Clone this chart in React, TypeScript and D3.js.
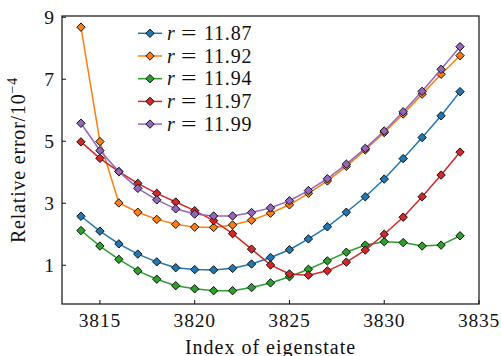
import React from "react";
import * as d3 from "d3";

const indices = d3.range(3814, 3835);

const r1187 = [2.58, 2.10, 1.69, 1.36, 1.11, 0.92, 0.86, 0.85, 0.90, 1.04, 1.25, 1.50, 1.85, 2.24, 2.71, 3.21, 3.78, 4.44, 5.12, 5.82, 6.60];
const r1192 = [8.68, 4.99, 3.01, 2.71, 2.48, 2.32, 2.23, 2.22, 2.30, 2.45, 2.68, 2.95, 3.32, 3.72, 4.19, 4.72, 5.28, 5.88, 6.52, 7.16, 7.76];
const r1194 = [2.12, 1.62, 1.19, 0.82, 0.55, 0.34, 0.24, 0.18, 0.18, 0.28, 0.43, 0.63, 0.87, 1.14, 1.42, 1.65, 1.76, 1.73, 1.62, 1.65, 1.95];
const r1197 = [4.98, 4.45, 4.02, 3.64, 3.32, 3.04, 2.76, 2.44, 2.02, 1.52, 1.01, 0.72, 0.68, 0.82, 1.10, 1.49, 2.00, 2.55, 3.21, 3.91, 4.65];
const r1199 = [5.58, 4.70, 4.02, 3.48, 3.11, 2.82, 2.65, 2.59, 2.59, 2.70, 2.85, 3.08, 3.41, 3.79, 4.26, 4.77, 5.33, 5.95, 6.61, 7.32, 8.05];

const seriesLabels = ["11.87", "11.92", "11.94", "11.97", "11.99"];
const seriesValues = [r1187, r1192, r1194, r1197, r1199];
const seriesColors = ["#1f77b4", "#ff7f0e", "#2ca02c", "#d62728", "#9467bd"];

const xTicks = [3815, 3820, 3825, 3830, 3835];
const yTicks = [1, 3, 5, 7, 9];

const W = 501;
const H = 356;
const plot = { left: 62, right: 479, top: 16, bottom: 304 };
const FONT = "Liberation Serif, DejaVu Serif, serif";

const x = d3.scaleLinear().domain([3813, 3835]).range([plot.left, plot.right]);
const y = d3.scaleLinear().domain([-0.25, 9.04]).range([plot.bottom, plot.top]);

const diamond = (cx: number, cy: number, r = 4.2) =>
  `M${cx},${cy - r}L${cx + r},${cy}L${cx},${cy + r}L${cx - r},${cy}Z`;

const textStyle: React.CSSProperties = { fontFamily: FONT };

export default function App() {
  const line = d3
    .line<number>()
    .x((_, i) => x(indices[i]))
    .y((v) => y(v));

  return (
    <svg
      width={W}
      height={H}
      style={{ position: "absolute", left: 0, top: 0, background: "#fff", fontFamily: FONT }}
    >
      <defs>
        <clipPath id="plotClip">
          <rect x={plot.left} y={plot.top} width={plot.right - plot.left} height={plot.bottom - plot.top} />
        </clipPath>
      </defs>

      {/* series */}
      <g clipPath="url(#plotClip)">
        {seriesValues.map((vals, s) => (
          <g key={seriesLabels[s]}>
            <path d={line(vals) || ""} fill="none" stroke={seriesColors[s]} strokeWidth={1.5} />
            {vals.map((v, i) => (
              <path
                key={i}
                d={diamond(x(indices[i]), y(v))}
                fill={seriesColors[s]}
                stroke="#111"
                strokeWidth={1}
              />
            ))}
          </g>
        ))}
      </g>

      {/* frame */}
      <rect
        x={plot.left}
        y={plot.top}
        width={plot.right - plot.left}
        height={plot.bottom - plot.top}
        fill="none"
        stroke="#111"
        strokeWidth={1.2}
      />

      {/* x axis */}
      {xTicks.map((t) => (
        <g key={t}>
          <line x1={x(t)} x2={x(t)} y1={plot.bottom} y2={plot.bottom - 4} stroke="#111" strokeWidth={1} />
          <text x={x(t)} y={326.5} textAnchor="middle" fontSize={19.5} letterSpacing={0.8} fill="#111" style={textStyle}>
            {t}
          </text>
        </g>
      ))}

      {/* y axis */}
      {yTicks.map((t) => (
        <g key={t}>
          <line x1={plot.left} x2={plot.left + 4} y1={y(t)} y2={y(t)} stroke="#111" strokeWidth={1} />
          <text x={54} y={y(t) + 6.5} textAnchor="end" fontSize={19.5} fill="#111" style={textStyle}>
            {t}
          </text>
        </g>
      ))}

      {/* axis titles */}
      <text
        x={(plot.left + plot.right) / 2}
        y={353.5}
        textAnchor="middle"
        fontSize={20}
        letterSpacing={1}
        fill="#111"
        style={textStyle}
      >
        Index of eigenstate
      </text>
      <text
        transform={`translate(25,${(plot.top + plot.bottom) / 2}) rotate(-90)`}
        textAnchor="middle"
        fontSize={20}
        letterSpacing={0.8}
        fill="#111"
        style={textStyle}
      >
        Relative error/10
        <tspan fontSize={14} dy={-8}>
          −4
        </tspan>
      </text>

      {/* legend */}
      {seriesLabels.map((lab, s) => {
        const cy = 33.3 + s * 22.7;
        return (
          <g key={lab}>
            <line x1={138} x2={162} y1={cy} y2={cy} stroke={seriesColors[s]} strokeWidth={1.5} />
            <path d={diamond(150, cy)} fill={seriesColors[s]} stroke="#111" strokeWidth={1} />
            <text y={cy + 6.5} fontSize={20} fill="#111" style={textStyle}>
              <tspan x={167} fontStyle="italic">r</tspan>
              <tspan x={181} textLength={15.5} lengthAdjust="spacingAndGlyphs">=</tspan>
              <tspan x={204} letterSpacing={0.8}>{lab}</tspan>
            </text>
          </g>
        );
      })}
    </svg>
  );
}
